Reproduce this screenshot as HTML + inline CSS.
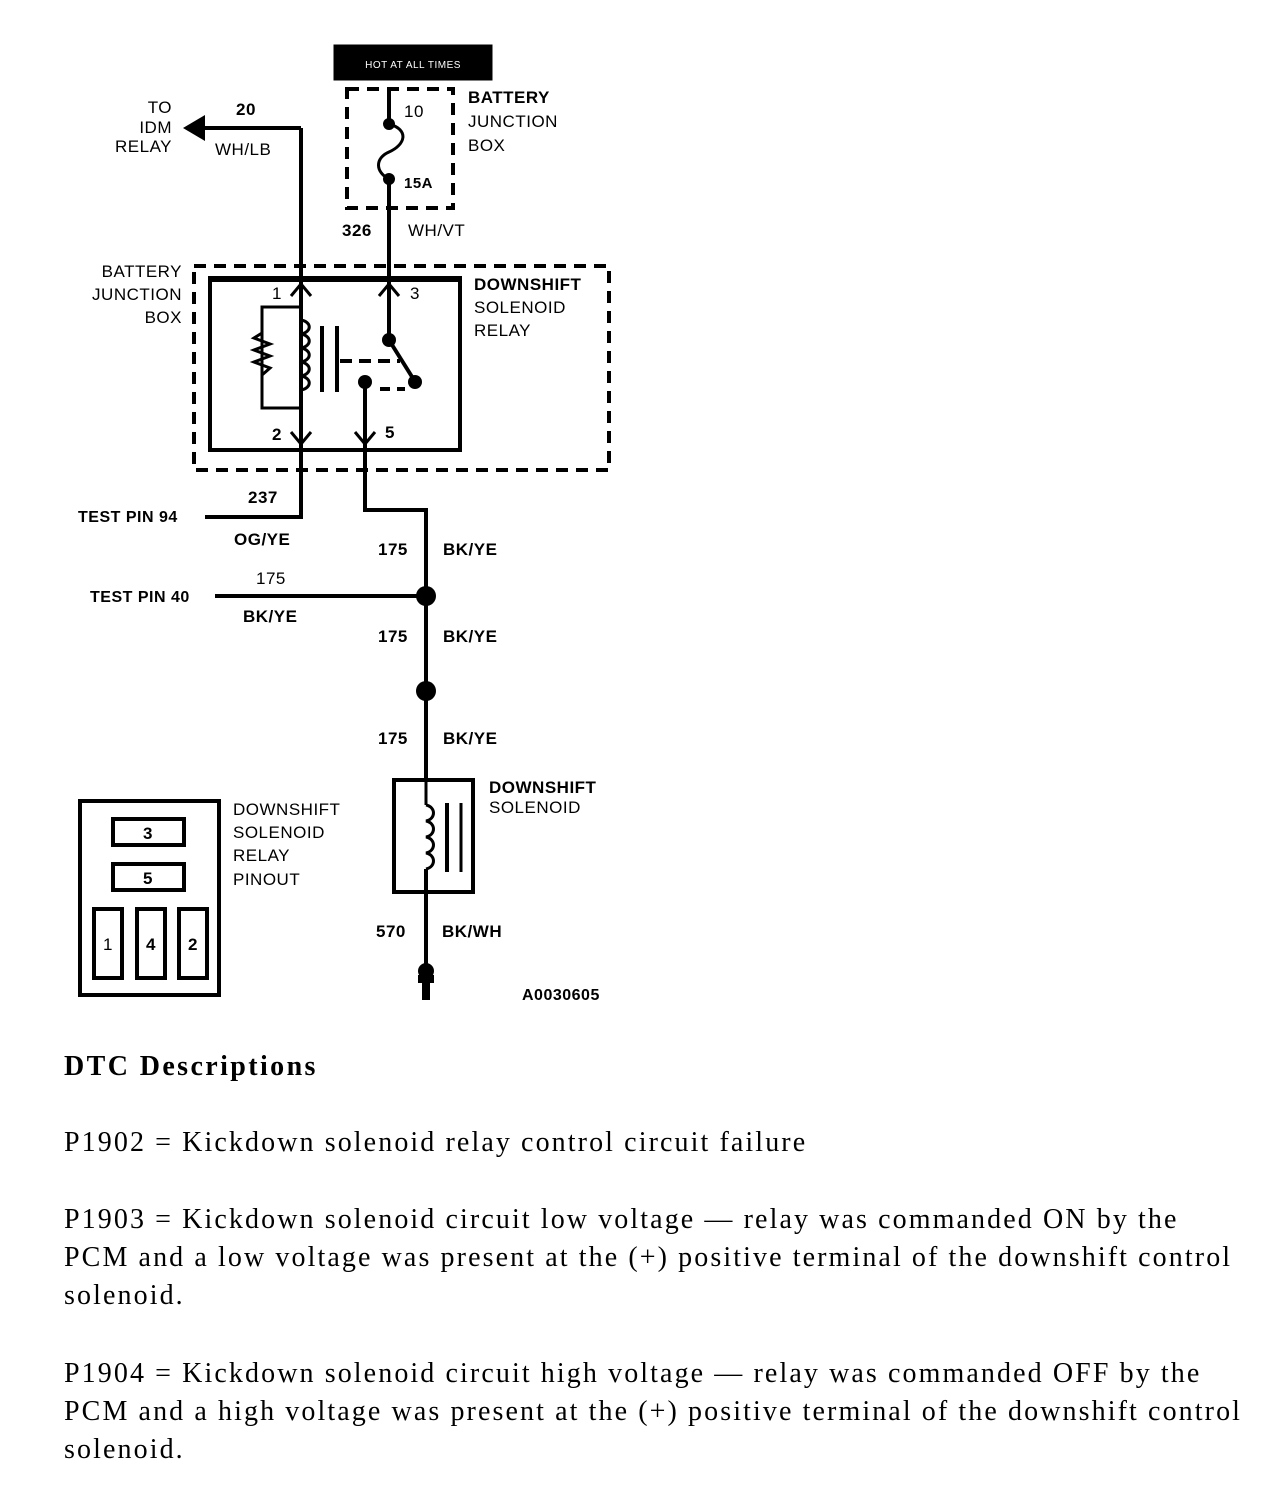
<!DOCTYPE html>
<html><head><style>
html,body{margin:0;padding:0;background:#fff;width:1280px;height:1498px;overflow:hidden}
svg text{font-family:"Liberation Sans",Arial,sans-serif;font-size:17px;fill:#000;letter-spacing:0.5px}
.b{font-weight:bold}
.t{position:absolute;left:64px;font-family:"Liberation Serif",serif;font-size:28px;line-height:38px;color:#000;margin:0;white-space:nowrap;letter-spacing:2.1px}
</style></head><body>
<svg width="1280" height="1040" style="position:absolute;left:0;top:0" xmlns="http://www.w3.org/2000/svg">
<g stroke="#000" fill="none">
<rect x="334" y="45" width="158" height="35" fill="#000"/>
<rect x="347" y="89" width="106" height="119" stroke-width="4" stroke-dasharray="12,8"/>
<line x1="389" y1="89" x2="389" y2="124" stroke-width="4"/>
<path d="M389 124 C410 130,405 145,389 152 C375 158,375 172,389 179" stroke-width="3"/>
<line x1="389" y1="179" x2="389" y2="280" stroke-width="4"/>
<line x1="301" y1="128" x2="301" y2="517" stroke-width="4"/>
<line x1="200" y1="128" x2="301" y2="128" stroke-width="4"/>
<rect x="194" y="266" width="415" height="204" stroke-width="4" stroke-dasharray="12,8"/>
<rect x="210" y="278" width="250" height="172" stroke-width="4"/>
<line x1="210" y1="279" x2="460" y2="279" stroke-width="6"/>
<path d="M291 296 L301 284 L311 296 M379 296 L389 284 L399 296 M291 432 L301 444 L311 432 M355 432 L365 444 L375 432" stroke-width="3"/>
<path d="M301 307 L262 307 L262 408 L301 408" stroke-width="3"/>
<path d="M262 333 L254 338 L270 344 L254 350 L270 356 L254 362 L270 368 L262 375" stroke-width="3"/>
<path d="M301 320 C312 322,312 332,301 334 C312 336,312 346,301 348 C312 350,312 360,301 362 C312 364,312 374,301 376 C312 378,312 388,301 390" stroke-width="3"/>
<line x1="322" y1="326" x2="322" y2="392" stroke-width="4"/>
<line x1="337" y1="326" x2="337" y2="392" stroke-width="4"/>
<line x1="389" y1="280" x2="389" y2="340" stroke-width="4"/>
<line x1="389" y1="340" x2="414" y2="380" stroke-width="4"/>
<line x1="340" y1="361" x2="400" y2="361" stroke-width="4" stroke-dasharray="12,7"/>
<line x1="380" y1="389" x2="405" y2="389" stroke-width="4" stroke-dasharray="10,7"/>
<line x1="365" y1="380" x2="365" y2="510" stroke-width="4"/>
<line x1="363" y1="510" x2="428" y2="510" stroke-width="4"/>
<line x1="426" y1="510" x2="426" y2="780" stroke-width="4"/>
<line x1="205" y1="517" x2="303" y2="517" stroke-width="4"/>
<line x1="215" y1="596" x2="426" y2="596" stroke-width="4"/>
<rect x="394" y="780" width="79" height="112" stroke-width="4"/>
<line x1="426" y1="780" x2="426" y2="805" stroke-width="3"/>
<path d="M426 805 C436 807,436 819,426 821 C436 823,436 835,426 837 C436 839,436 851,426 853 C436 855,436 867,426 869" stroke-width="3"/>
<line x1="426" y1="869" x2="426" y2="965" stroke-width="4"/>
<line x1="447" y1="803" x2="447" y2="872" stroke-width="4"/>
<line x1="461" y1="803" x2="461" y2="872" stroke-width="3"/>
<line x1="426" y1="985" x2="426" y2="1000" stroke-width="4"/>
<rect x="80" y="801" width="139" height="194" stroke-width="4"/>
<rect x="113" y="819" width="71" height="26" stroke-width="4"/>
<rect x="113" y="864" width="71" height="26" stroke-width="4"/>
<rect x="94" y="909" width="28" height="69" stroke-width="4"/>
<rect x="137" y="909" width="28" height="69" stroke-width="4"/>
<rect x="179" y="909" width="28" height="69" stroke-width="4"/>
</g>
<g fill="#000">
<path d="M183 128 L205 115 L205 141 Z"/>
<circle cx="389" cy="124" r="6"/><circle cx="389" cy="179" r="6"/>
<circle cx="389" cy="340" r="7"/><circle cx="415" cy="382" r="7"/><circle cx="365" cy="382" r="7"/>
<circle cx="426" cy="596" r="10"/><circle cx="426" cy="691" r="10"/>
<ellipse cx="426" cy="971" rx="8" ry="8"/>
<rect x="418" y="975" width="16" height="8"/>
<rect x="422" y="982" width="8" height="18"/>
</g>
<text x="413" y="68" text-anchor="middle" style="fill:#fff;font-size:10px">HOT AT ALL TIMES</text>
<text x="404" y="117" font-size="15">10</text>
<text x="404" y="188" class="b" style="font-size:15px">15A</text>
<text x="468" y="103" class="b">BATTERY</text><text x="468" y="127">JUNCTION</text><text x="468" y="151">BOX</text>
<text x="342" y="236" class="b">326</text><text x="408" y="236">WH/VT</text>
<text x="236" y="115" class="b">20</text><text x="215" y="155">WH/LB</text>
<text x="172" y="113" text-anchor="end">TO</text><text x="172" y="133" text-anchor="end">IDM</text><text x="172" y="152" text-anchor="end">RELAY</text>
<text x="182" y="277" text-anchor="end">BATTERY</text><text x="182" y="300" text-anchor="end">JUNCTION</text><text x="182" y="323" text-anchor="end">BOX</text>
<text x="474" y="290" class="b">DOWNSHIFT</text><text x="474" y="313">SOLENOID</text><text x="474" y="336">RELAY</text>
<text x="272" y="299">1</text><text x="410" y="299">3</text>
<text x="272" y="440" class="b">2</text><text x="385" y="438" class="b">5</text>
<text x="248" y="503" class="b">237</text><text x="234" y="545" class="b">OG/YE</text>
<text x="78" y="522" class="b" style="font-size:16px">TEST PIN  94</text>
<text x="256" y="584">175</text><text x="243" y="622" class="b">BK/YE</text>
<text x="90" y="602" class="b" style="font-size:16px">TEST PIN  40</text>
<text x="378" y="555" class="b">175</text><text x="443" y="555" class="b">BK/YE</text>
<text x="378" y="642" class="b">175</text><text x="443" y="642" class="b">BK/YE</text>
<text x="378" y="744" class="b">175</text><text x="443" y="744" class="b">BK/YE</text>
<text x="489" y="793" class="b">DOWNSHIFT</text><text x="489" y="813">SOLENOID</text>
<text x="376" y="937" class="b">570</text><text x="442" y="937" class="b">BK/WH</text>
<text x="522" y="1000" class="b" style="font-size:16px">A0030605</text>
<text x="233" y="815">DOWNSHIFT</text><text x="233" y="838">SOLENOID</text><text x="233" y="861">RELAY</text><text x="233" y="885">PINOUT</text>
<text x="148" y="839" text-anchor="middle" class="b">3</text><text x="148" y="884" text-anchor="middle" class="b">5</text>
<text x="108" y="950" text-anchor="middle">1</text><text x="151" y="950" text-anchor="middle" class="b">4</text><text x="193" y="950" text-anchor="middle" class="b">2</text>
</svg>
<p class="t" style="top:1048px;font-weight:bold;letter-spacing:2.4px">DTC Descriptions</p>
<p class="t" style="top:1124px">P1902 = Kickdown solenoid relay control circuit failure</p>
<p class="t" style="top:1201px">P1903 = Kickdown solenoid circuit low voltage — relay was commanded ON by the<br>PCM and a low voltage was present at the (+) positive terminal of the downshift control<br>solenoid.</p>
<p class="t" style="top:1355px">P1904 = Kickdown solenoid circuit high voltage — relay was commanded OFF by the<br>PCM and a high voltage was present at the (+) positive terminal of the downshift control<br>solenoid.</p>
</body></html>
